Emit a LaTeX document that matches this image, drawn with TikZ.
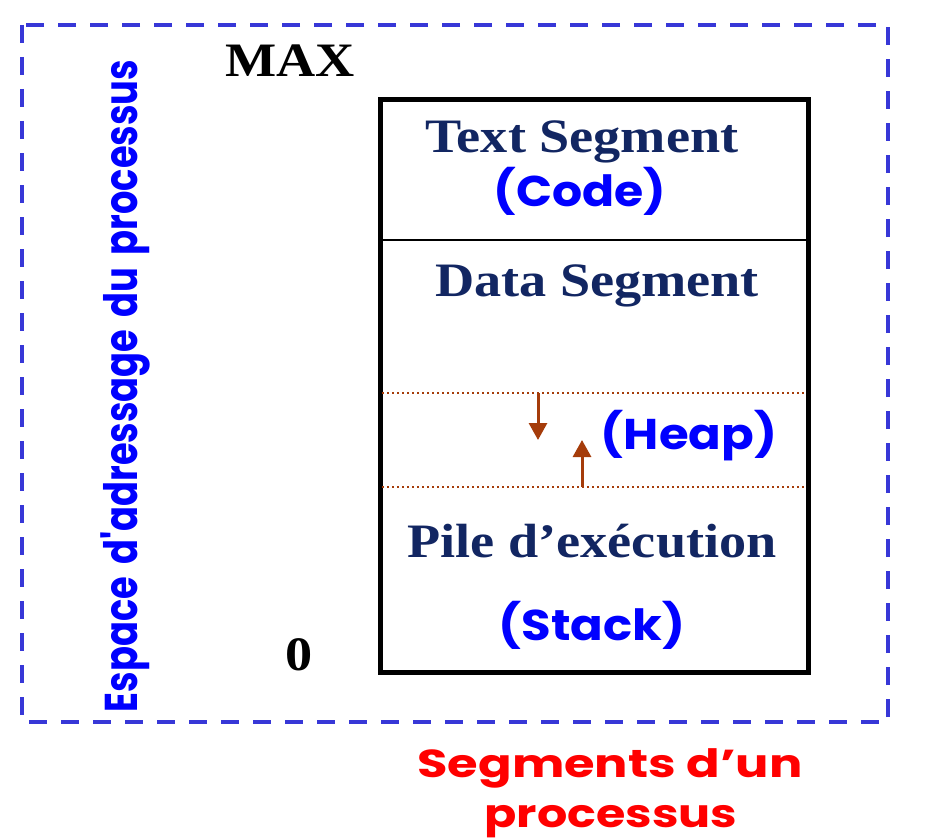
\documentclass[tikz,border=0pt]{standalone}
\usepackage{fontspec}
\setmainfont{Liberation Serif}
\newfontfamily\handfont{Poppins}
\usetikzlibrary{arrows.meta}
\definecolor{navy}{RGB}{18,38,98}
\definecolor{frameblue}{RGB}{55,55,215}
\definecolor{rust}{RGB}{165,60,10}
\definecolor{labelblue}{RGB}{0,0,255}
\definecolor{labelred}{RGB}{255,0,0}
\begin{document}
\begin{tikzpicture}[x=1pt,y=-1pt,
  serif/.style={inner sep=0pt, anchor=base,
    font=\fontsize{48}{52}\selectfont\bfseries},
  hand/.style={inner sep=0pt, anchor=base,
    font=\handfont\fontsize{43}{48}\selectfont\bfseries, text=labelblue},
  caption/.style={inner sep=0pt, anchor=base, text=labelred,
    font=\handfont\fontsize{39}{44}\selectfont\bfseries},
  segline/.style={rust, line width=1.8pt, dash pattern=on 2pt off 3pt},
  growth/.style={rust, line width=3pt, -{Triangle[width=18pt,length=17pt]}}]
\useasboundingbox (0,0) rectangle (926,840);

% process address space frame
\draw[frameblue, line width=4pt, dash pattern=on 18pt off 14pt]
  (22,25) rectangle (888,722);

% memory column
\node[draw, line width=5pt, minimum width=428pt, minimum height=572pt,
  inner sep=0pt] (mem) at (594,386) {};
\coordinate (tl) at (380,240);
\coordinate (tr) at (808,240);
\draw[line width=2pt] (tl) -- (tr);
\coordinate (hl) at (382,393);
\coordinate (hr) at (806,393);
\coordinate (sl) at (382,487);
\coordinate (sr) at (806,487);
\draw[segline] (hl) -- (hr);
\draw[segline] (sl) -- (sr);

% heap and stack growth arrows
\coordinate (hs) at (538,393);
\coordinate (he) at (538,440);
\coordinate (ss) at (582,487);
\coordinate (se) at (582,440);
\draw[growth] (hs) -- (he);
\draw[growth] (ss) -- (se);

% address bounds
\node[serif] (max) at (290,77) {\scalebox{1.13}[1]{MAX}};
\node[serif] (zero) at (299,670) {\scalebox{1.13}[1]{0}};

% segment labels
\node[serif, text=navy] (textseg) at (582,153) {\scalebox{1.13}[1]{Text Segment}};
\node[hand] (code) at (580,206) {\scalebox{1.1}[1]{(Code)}};
\node[serif, text=navy] (dataseg) at (597,296) {\scalebox{1.13}[1]{Data Segment}};
\node[hand] (heap) at (689,449) {\scalebox{1.12}[1]{(Heap)}};
\node[serif, text=navy] (pile) at (592,557) {\scalebox{1.13}[1]{Pile d’exécution}};
\node[hand] (stack) at (592,640) {\scalebox{1.12}[1]{(Stack)}};

% side label
\node[inner sep=0pt, anchor=base, rotate=90, text=labelblue,
  font=\handfont\fontsize{46}{50}\selectfont\bfseries] (space) at (137,386)
  {\scalebox{0.8}[1]{Espace\hspace{0.12em} d'adressage\hspace{0.12em} du\hspace{0.12em} processus}};

% caption
\node[caption] (cap1) at (610,777) {\scalebox{1.27}[1]{Segments d’un}};
\node[caption] (cap2) at (611,827) {\scalebox{1.22}[1]{processus}};
\end{tikzpicture}
\end{document}
